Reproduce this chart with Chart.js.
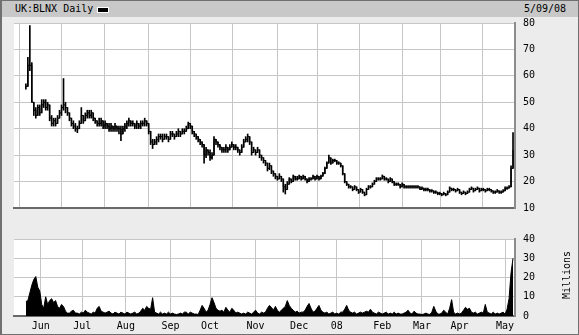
<!DOCTYPE html>
<html>
<head>
<meta charset="utf-8">
<script src="https://cdn.jsdelivr.net/npm/chart.js@4/dist/chart.umd.min.js"></script>
<style>
    body { margin: 0; background: #ececec; }
    #frame { position: relative; width: 579px; height: 335px; background: #ececec; overflow: hidden;
             font-family: "DejaVu Sans Mono", monospace; font-size: 10px; color: #000; }
    #titlebar { position: absolute; left: 0; top: 0; width: 579px; height: 17px; background: #c8c8c8; }
    #title { position: absolute; left: 15px; top: 3px; line-height: 12px; }
    #swatch { position: absolute; left: 97px; top: 7px; width: 10px; height: 4px; background: #000; border: 1px solid #fff; }
    #date { position: absolute; left: 524px; top: 3px; line-height: 12px; }
    #millions { position: absolute; left: 567px; top: 275px; transform: translate(-50%, -50%) rotate(-90deg); line-height: 12px; white-space: nowrap; }
    #border { position: absolute; left: 0; top: 0; width: 579px; height: 335px; box-sizing: border-box; border: 1px solid #707070; border-left-width: 2px; }
    canvas { position: absolute; left: 0; top: 0; }
</style>
</head>
<body>
<div id="frame">
    <div id="titlebar"></div>
    <div id="title">UK:BLNX Daily</div>
    <div id="swatch"></div>
    <div id="date">5/09/08</div>
    <canvas id="priceChart" width="579" height="335"></canvas>
    <canvas id="volumeChart" width="579" height="335"></canvas>
    <div id="millions">Millions</div>
    <div id="border"></div>
</div>
<script>
// --- DATOS (un valor por sesión, desde 21 may 2007 hasta 9 may 2008) ---
const closes = [
    56, 64, 64, 50, 47, 45, 48, 46, 49, 50,
    48, 49, 44, 42, 43, 42, 44, 46, 48, 49,
    48, 46, 44, 42, 41, 40, 40, 42, 45, 43,
    45, 46, 45, 46, 44, 43, 42, 42, 43, 41,
    42, 41, 40, 41, 40, 41, 40, 40, 38, 40,
    41, 42, 43, 42, 42, 41, 42, 41, 42, 42,
    43, 42, 39, 35, 34, 35, 36, 37, 37, 36,
    37, 37, 36, 38, 38, 37, 38, 39, 38, 39,
    39, 40, 42, 41, 39, 38, 37, 36, 35, 34,
    30, 32, 31, 29, 30, 36, 35, 34, 33, 32,
    32, 33, 32, 33, 34, 33, 33, 32, 31, 33,
    35, 36, 37, 35, 31, 32, 31, 32, 30, 29,
    28, 27, 25, 26, 24, 23, 22, 21, 22, 21,
    18, 17, 19, 21, 20, 22, 21, 21, 22, 21,
    22, 21, 20, 21, 21, 22, 21, 22, 21, 22,
    23, 25, 27, 29, 27, 28, 28, 27, 27, 26,
    23, 20, 19, 18, 18, 17, 18, 17, 16, 17,
    16, 15, 17, 18, 18, 19, 20, 21, 21, 21,
    22, 21, 21, 20, 21, 20, 19, 19, 19, 18,
    19, 18, 18, 18, 18, 18, 18, 18, 18, 17,
    17.5, 17, 17, 17, 16.5, 16.5, 16, 16, 15.5, 15.5,
    15, 15.5, 15, 16, 17.5, 17, 17, 16.5, 17, 16,
    15.5, 16, 15.5, 16, 17, 17.5, 16.5, 17, 17.5, 16.5,
    17, 17, 16.5, 17, 17, 16.5, 16, 16, 16.5, 16,
    16, 16.5, 17.5, 17.5, 18, 25, 32
];
const highs = [
    57, 67, 79, 65, 50, 48, 49, 49, 51, 51,
    51, 50, 49, 45, 44, 44, 45, 47, 49, 59,
    50, 48, 46, 44, 43, 42, 41, 43, 48, 45,
    46, 47, 47, 47, 46, 44, 43, 44, 44, 43,
    43, 42, 42, 42, 41, 42, 41, 41, 41, 41,
    42, 43, 44, 43, 43, 42, 43, 42, 43, 43,
    44, 43, 42, 39, 36, 36, 37, 38, 38, 38,
    38, 38, 37, 39, 39, 38, 39, 40, 39, 40,
    40, 41, 42.5, 42, 41, 39, 38, 37, 36, 35,
    34, 33, 32, 32, 31, 37, 36, 35, 34, 33,
    33, 34, 33, 34, 35, 34, 34, 33, 32, 34,
    36, 37, 38, 37, 35, 33, 32, 33, 32, 30,
    29, 28, 27, 27, 26, 24, 23, 22, 23, 22,
    21, 19, 20, 21.5, 21, 22.5, 22, 22, 22.5, 22,
    22.5, 22, 21, 21.5, 21.5, 22.5, 22, 22.5, 22, 22.5,
    23.5, 25.5, 27.5, 30, 29, 28.5, 28.5, 28, 27.5, 27,
    26, 23, 20, 19, 18.5, 18, 18.5, 18, 17, 17.5,
    17, 16, 17.5, 18.5, 18.5, 19.5, 20.5, 21.5, 21.5, 21.5,
    22.5, 22, 21.5, 21, 21.5, 21, 20, 19.5, 19.5, 19,
    19.5, 19, 18.5, 18.5, 18.5, 18.5, 18.5, 18.5, 18.5, 18,
    18, 17.5, 17.5, 17.5, 17, 17, 16.5, 16.5, 16, 16,
    15.5, 16, 15.5, 16.5, 18, 17.5, 17.5, 17, 17.5, 17,
    16, 16.5, 16, 16.5, 17.5, 18, 17.5, 17.5, 18, 17.5,
    17.5, 17.5, 17, 17.5, 17.5, 17, 16.5, 16.5, 17, 16.5,
    16.5, 17, 18, 18, 18.5, 26, 38.5
];
const lows = [
    55, 56, 62, 50, 45, 44, 45, 45, 46, 48,
    47, 47, 43, 41, 41, 41, 42, 44, 45, 47,
    46, 45, 43, 41, 40, 39, 38.5, 40, 42, 42,
    43, 44, 44, 44, 43, 42, 41, 41, 41, 40,
    40, 40, 39, 39, 39, 39, 39, 38, 35.5, 38,
    39, 40, 41, 41, 41, 40, 40, 40, 40, 41,
    41, 41, 38, 34, 32.5, 34, 34, 35, 36, 35,
    36, 36, 35, 36, 37, 36, 37, 37, 37, 38,
    38, 39, 40, 40, 38, 37, 36, 35, 34, 33,
    27, 29, 30, 28, 28.5, 30, 34, 33, 32, 31,
    31, 31, 31, 32, 33, 32, 32, 31, 30, 31,
    33, 35, 35, 34, 30, 31, 30, 31, 29, 28,
    27, 26, 24, 24.5, 23, 22, 21, 20.5, 21, 20,
    16, 15.3, 17, 19, 19.5, 20, 20.5, 20.5, 21, 20.5,
    21, 20.5, 19.5, 20, 20.5, 21, 20.5, 21, 20.5, 21,
    22, 23, 25, 27, 26.5, 27, 27.5, 26.5, 26.5, 25.5,
    22.5, 19.5, 18.5, 17.5, 17.5, 16.5, 17, 16.5, 15.5, 16,
    15.5, 14.6, 15, 17, 17.5, 18, 19, 20, 20.5, 20.5,
    21, 20.5, 20.5, 19.5, 20, 19.5, 18.5, 18.5, 18.5, 17.5,
    18, 17.5, 17.5, 17.5, 17.5, 17.5, 17.5, 17.5, 17.5, 17,
    17, 16.5, 16.5, 16.5, 16, 16, 15.5, 15.5, 15, 15,
    14.6, 15, 14.6, 15, 16, 16.5, 16.5, 16, 16.5, 15.5,
    15, 15.5, 15, 15.5, 16, 17, 16, 16.5, 17, 16,
    16.5, 16.5, 16, 16.5, 16.5, 16, 15.5, 15.5, 16, 15.5,
    15.5, 16, 16.5, 17, 17.5, 18, 25
];
// volumen en millones
const volumes = [
    7.5, 8, 12, 16, 19, 20.5, 15, 13, 6, 4,
    10, 6, 8, 9, 7, 8, 5, 4, 6, 5,
    2.5, 1.5, 1.5, 2.5, 3, 1.5, 1.5, 1, 2, 1.5,
    3, 2, 1.5, 1, 2, 1.5, 4, 5, 2.5, 2,
    1.5, 2, 2.5, 1.5, 1, 2, 1.5, 1, 2, 1.5,
    1, 2, 1.5, 1, 1.5, 2, 1, 1.5, 2.5, 4,
    3, 5, 4, 3.5, 9.5, 2, 1.5, 1, 2, 1,
    1.5, 1, 2, 1, 1.5, 1, 0.8, 1, 1.5, 1,
    2, 2, 1, 2, 1.5, 1, 1, 0.8, 3, 5.5,
    4, 2, 3, 6, 9.5, 7, 4, 3, 2.5, 3,
    2, 4.5, 3, 2, 4, 3, 1.5, 2, 1.5, 1,
    1.5, 1, 2, 1.5, 1, 2, 3, 1.5, 1, 2,
    1.5, 2, 4, 5.5, 4.5, 3, 5, 3, 2, 3,
    4, 5, 8, 5.5, 4, 3, 2, 2.5, 1.5, 2,
    2, 3, 5, 6.5, 4, 2, 2.5, 4, 5.5, 3,
    2, 1.5, 2, 1, 1.5, 2, 1, 1.5, 1, 2,
    2, 3.5, 5.5, 3, 2, 1.5, 2, 1, 1.5, 2,
    1.5, 2, 2.5, 2, 3.5, 2, 1.5, 1, 2, 1.5,
    1, 1.5, 2, 1, 1.5, 1, 2, 1, 1.5, 1,
    1, 1.5, 2, 3, 1.5, 1, 2.5, 1.5, 1, 1,
    0.8, 1, 1.5, 1, 0.8, 2, 5, 2.5, 1, 1,
    1.5, 3, 2, 1, 4, 8.5, 2, 1, 1.5, 1,
    1.5, 3, 4.5, 3.5, 4, 2, 1.5, 2, 1, 1.5,
    2, 1.5, 6, 2, 1.5, 1, 2, 1, 1.5, 1,
    1.5, 2, 1, 3.5, 9, 22.5, 30
];
// inicio de cada mes (índice de sesión, en el borde entre sesiones)
const monthTicks = [7.5, 28.5, 50.5, 73, 93, 116, 138, 157, 180, 200, 219, 242];
const monthLabels = ['Jun', 'Jul', 'Aug', 'Sep', 'Oct', 'Nov', 'Dec', '08', 'Feb', 'Mar', 'Apr', 'May'];
const priceTicks = [10, 20, 30, 40, 50, 60, 70, 80];
const volumeTicks = [0, 10, 20, 30, 40];

// --- ESTILO GENERAL ---
Chart.defaults.font.family = '"DejaVu Sans Mono", monospace';
Chart.defaults.font.size = 10;
Chart.defaults.color = '#000';
const GRID = '#c6c6c6';
const X_MIN = -6, X_MAX = 247;

const plotBg = {
    id: 'plotBg',
    beforeDraw(chart) {
        const { ctx, chartArea: a } = chart;
        ctx.save();
        ctx.fillStyle = '#fff';
        ctx.fillRect(a.left, a.top, a.width, a.height);
        ctx.restore();
    }
};

function xScale(showLabels) {
    return {
        type: 'linear', min: X_MIN, max: X_MAX, offset: false,
        afterBuildTicks: s => { s.ticks = monthTicks.map(v => ({ value: v })); },
        ticks: {
            display: showLabels, autoSkip: false, maxRotation: 0, padding: 4,
            callback: (v) => monthLabels[monthTicks.indexOf(v)]
        },
        grid: { color: GRID, drawTicks: false },
        border: { color: '#6a6a6a', width: 2 },
        afterFit: s => { s.height = showLabels ? 19 : 0; }
    };
}

function yScale(min, max, ticks) {
    return {
        position: 'right', min, max,
        afterBuildTicks: s => { s.ticks = ticks.map(v => ({ value: v })); },
        ticks: { padding: 8 },
        grid: { color: GRID, drawTicks: false },
        border: { color: '#8c8c8c', width: 2 },
        afterFit: s => { s.width = 64; }
    };
}

const commonOpts = {
    responsive: false,
    animation: false,
    events: [],
    devicePixelRatio: 1,
    plugins: { legend: { display: false }, tooltip: { enabled: false } }
};

// --- GRÁFICO DE PRECIO ---
new Chart(document.getElementById('priceChart'), {
    type: 'bar',
    data: {
        datasets: [{
            type: 'bar',
            data: closes.map((c, i) => ({ x: i, y: [lows[i], highs[i]] })),
            backgroundColor: '#000',
            barThickness: 1,
            grouped: false
        }, {
            type: 'line',
            data: closes.map((c, i) => ({ x: i, y: c })),
            borderColor: '#000',
            borderWidth: 1,
            pointRadius: 0,
            stepped: 'before'
        }]
    },
    options: {
        ...commonOpts,
        layout: { padding: { left: 14, top: 23, right: 0, bottom: 127 } },
        scales: { x: xScale(false), y: yScale(10, 80, priceTicks) }
    },
    plugins: [plotBg]
});

// --- GRÁFICO DE VOLUMEN ---
new Chart(document.getElementById('volumeChart'), {
    type: 'line',
    data: {
        datasets: [{
            data: volumes.map((v, i) => ({ x: i, y: v })),
            borderColor: '#000',
            backgroundColor: '#000',
            borderWidth: 1,
            pointRadius: 0,
            fill: 'origin'
        }]
    },
    options: {
        ...commonOpts,
        layout: { padding: { left: 14, top: 239, right: 0, bottom: 0 } },
        scales: { x: xScale(true), y: yScale(0, 40, volumeTicks) }
    },
    plugins: [plotBg]
});
</script>
</body>
</html>
